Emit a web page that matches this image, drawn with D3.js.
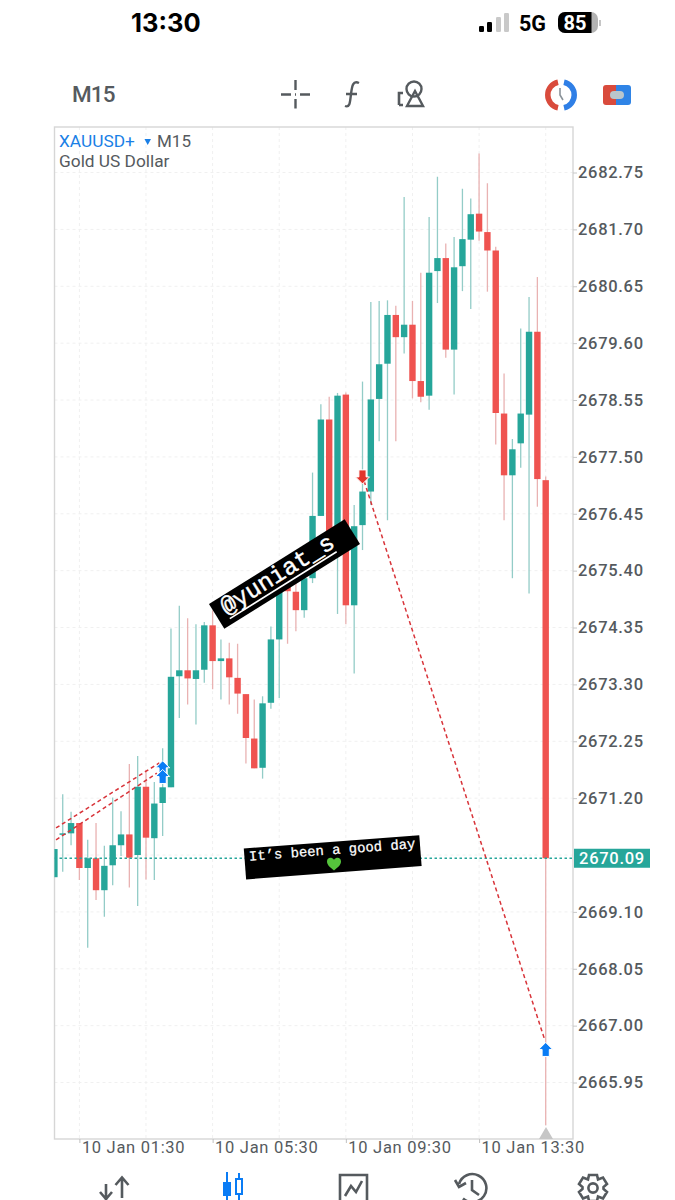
<!DOCTYPE html>
<html><head><meta charset="utf-8">
<style>
html,body{margin:0;padding:0;background:#fff}
svg{display:block}
text{font-family:Roboto,sans-serif}
</style>
<script src="https://cdn.jsdelivr.net/npm/d3@7"></script></head>
<body><svg id="c" width="675" height="1200"></svg>
<script>
// Candles, oldest first, 15 minutes apart
const firstCandle = "2025-01-10T00:45:00Z";
const opens = [2669.74,2670.53,2670.55,2670.74,2669.91,2670.09,2669.50,2669.96,2670.33,2670.53,2670.15,2671.41,2670.46,2671.11,2671.40,2673.45,2673.56,2673.40,2673.57,2674.39,2673.73,2673.78,2673.42,2673.12,2672.30,2671.76,2672.96,2674.13,2675.17,2675.01,2674.67,2675.26,2676.41,2678.19,2675.96,2678.65,2674.76,2676.24,2676.86,2678.57,2679.22,2680.12,2679.71,2679.94,2678.90,2678.63,2680.93,2681.17,2679.48,2681.02,2681.51,2681.99,2681.65,2681.31,2678.30,2677.16,2677.75,2678.28,2679.81,2677.07];
const highs = [2670.26,2671.27,2670.95,2670.74,2670.43,2670.74,2670.32,2671.21,2670.96,2671.83,2671.98,2671.72,2671.50,2672.12,2674.33,2674.75,2674.52,2674.41,2674.45,2674.67,2674.13,2674.07,2674.05,2673.12,2673.02,2673.08,2674.37,2675.50,2675.41,2675.32,2675.59,2677.21,2678.47,2678.61,2678.68,2678.69,2676.61,2678.89,2680.36,2680.38,2680.39,2680.29,2682.30,2680.38,2680.90,2681.93,2682.67,2681.44,2681.56,2682.45,2682.27,2683.10,2682.55,2681.38,2679.04,2677.83,2679.87,2680.45,2680.82,2677.14];
const lows = [2669.74,2669.84,2670.33,2669.69,2668.44,2669.32,2669.01,2669.59,2670.13,2669.55,2669.21,2669.70,2669.69,2670.50,2671.40,2672.68,2672.93,2672.56,2673.33,2673.21,2673.02,2672.93,2672.76,2671.84,2671.75,2671.56,2672.85,2673.05,2674.05,2674.28,2674.53,2675.17,2676.41,2675.59,2674.60,2674.41,2673.50,2675.78,2676.61,2677.79,2676.33,2677.79,2679.41,2678.58,2678.51,2678.37,2680.34,2679.33,2678.65,2680.56,2680.23,2681.49,2680.55,2677.73,2676.33,2675.26,2677.30,2674.98,2676.58,2665.16];
const closes = [2670.26,2670.55,2670.74,2669.91,2670.09,2669.50,2669.95,2670.33,2670.53,2670.10,2671.41,2670.47,2671.10,2671.40,2673.44,2673.56,2673.41,2673.56,2674.39,2673.73,2673.78,2673.43,2673.13,2672.31,2671.75,2672.95,2674.13,2675.04,2675.02,2674.67,2675.26,2676.41,2678.19,2675.87,2678.63,2674.76,2676.22,2676.86,2678.56,2679.21,2680.12,2679.71,2679.94,2678.90,2678.61,2680.90,2681.17,2679.48,2681.00,2681.52,2681.98,2681.66,2681.31,2678.31,2677.16,2677.64,2678.30,2679.81,2677.09,2670.09];
const priceTicks = [2682.75,2681.70,2680.65,2679.60,2678.55,2677.50,2676.45,2675.40,2674.35,2673.30,2672.25,2671.20,2669.10,2668.05,2667.00,2665.95];
const gridPrices = [2682.75,2681.70,2680.65,2679.60,2678.55,2677.50,2676.45,2675.40,2674.35,2673.30,2672.25,2671.20,2670.15,2669.10,2668.05,2667.00,2665.95];
const timeTicks = ["2025-01-10T01:30:00Z","2025-01-10T05:30:00Z","2025-01-10T09:30:00Z","2025-01-10T13:30:00Z"];
const timeGrid = ["2025-01-10T01:30:00Z","2025-01-10T03:30:00Z","2025-01-10T05:30:00Z","2025-01-10T07:30:00Z","2025-01-10T09:30:00Z","2025-01-10T11:30:00Z","2025-01-10T13:30:00Z","2025-01-10T15:30:00Z"];
const lastPrice = 2670.09;
const tradeFromIdx = [0.2,0.2,37.2];
const tradeFromPrice = [2670.65,2670.43,2677.05];
const tradeToIdx = [12.6,12.3,58.9];
const tradeToPrice = [2671.85,2671.66,2666.73];
const buyIdx = [13,13,59];
const buyPrice = [2671.76,2671.60,2666.56];
const sellIdx = [37];
const sellPrice = [2677.13];

const svg = d3.select("#c");
const W=675, L=54.5, R=573, T=127, B=1139;
const gray="#555a5e", teal="#26a69a", red="#ef5350", blue="#0a7cf5";

const t0 = new Date(firstCandle);
const timeOf = i => new Date(+t0 + i*15*60000);
const x = d3.scaleUtc().domain([timeOf(0),timeOf(59)]).range([54.4,545.7]);
const y = d3.scaleLinear().domain([2682.75,2665.95]).range([172.5,1082.5]);
const candles = opens.map((o,i)=>({t:timeOf(i),o,h:highs[i],l:lows[i],c:closes[i]}));

svg.append("defs").append("clipPath").attr("id","plot").append("rect").attr("x",L).attr("y",T).attr("width",R-L).attr("height",B-T);

// Grid
const grid = svg.append("g").attr("stroke","#f0f0f0").attr("stroke-width",1).attr("stroke-dasharray","3 3");
grid.selectAll(".h").data(gridPrices).join("line").attr("x1",L).attr("x2",R).attr("y1",d=>y(d)).attr("y2",d=>y(d));
grid.selectAll(".v").data(timeGrid).join("line").attr("x1",d=>x(new Date(d))).attr("x2",d=>x(new Date(d))).attr("y1",T).attr("y2",B);

// Frame
svg.append("rect").attr("x",L).attr("y",T).attr("width",R-L).attr("height",B-T).attr("fill","none").attr("stroke","#d6d6d6").attr("stroke-width",1.4);

// Axes
const ay = svg.append("g").attr("transform",`translate(${R},0)`)
  .call(d3.axisRight(y).tickValues(priceTicks).tickFormat(d3.format(".2f")).tickSize(4).tickPadding(1));
ay.select(".domain").remove();
ay.selectAll("line").attr("stroke","#c8c8c8");
ay.selectAll("text").attr("fill",gray).style("font-size","16.5px").style("font-weight",500).style("letter-spacing","0.7px").style("font-family","Roboto");
const ax = svg.append("g").attr("transform",`translate(0,${B})`)
  .call(d3.axisBottom(x).tickValues(timeTicks.map(d=>new Date(d))).tickFormat(d3.utcFormat("%d %b %H:%M")).tickSize(4).tickPadding(0));
ax.select(".domain").remove();
ax.selectAll("line").attr("stroke","#c0c0c0");
ax.selectAll("text").attr("fill",gray).attr("text-anchor","start").attr("dx",2).attr("dy","0.62em").style("font-size","16.5px").style("letter-spacing","0.7px").style("font-family","Roboto");

// Candles
const plot = svg.append("g").attr("clip-path","url(#plot)");
plot.selectAll(".w").data(candles).join("line")
  .attr("x1",d=>x(d.t)).attr("x2",d=>x(d.t)).attr("y1",d=>y(d.h)).attr("y2",d=>y(d.l))
  .attr("stroke",d=>d.c>=d.o?"#93ccc7":"#e9b2b2").attr("stroke-width",1.3);
plot.selectAll(".b").data(candles).join("rect")
  .attr("x",d=>x(d.t)-3.2).attr("width",6.4)
  .attr("y",d=>y(Math.max(d.o,d.c))).attr("height",d=>Math.max(1.5,Math.abs(y(d.o)-y(d.c))))
  .attr("fill",d=>d.c>=d.o?teal:red);

// Last price line
plot.append("line").attr("x1",L).attr("x2",R).attr("y1",y(lastPrice)).attr("y2",y(lastPrice))
  .attr("stroke",teal).attr("stroke-width",1.3).attr("stroke-dasharray","2.5 2.5");
svg.append("rect").attr("x",574).attr("y",y(lastPrice)-9.5).attr("width",76).attr("height",19).attr("fill",teal);
svg.append("text").attr("x",612).attr("y",y(lastPrice)+6).attr("text-anchor","middle").attr("fill","#fff")
  .style("font-size","16.5px").style("font-weight",500).style("letter-spacing","0.7px").text(d3.format(".2f")(lastPrice));

// Trade lines
plot.selectAll(".t").data(tradeFromIdx).join("line")
  .attr("x1",d=>x(timeOf(d))).attr("y1",(d,i)=>y(tradeFromPrice[i]))
  .attr("x2",(d,i)=>x(timeOf(tradeToIdx[i]))).attr("y2",(d,i)=>y(tradeToPrice[i]))
  .attr("stroke","#d8343a").attr("stroke-width",1.5).attr("stroke-dasharray","4 3");

// Markers
const upArrow="M0,-7L7,0L3.6,0L3.6,7L-3.6,7L-3.6,0L-7,0Z";
plot.selectAll(".buy").data(buyIdx).join("path")
  .attr("d",upArrow).attr("transform",(d,i)=>`translate(${x(timeOf(d))},${y(buyPrice[i])})`)
  .attr("fill",blue).attr("stroke","#fff").attr("stroke-width",1);
plot.selectAll(".sell").data(sellIdx).join("path")
  .attr("d",upArrow).attr("transform",(d,i)=>`translate(${x(timeOf(d))},${y(sellPrice[i])}) scale(1,-1)`)
  .attr("fill","#e2352d").attr("stroke","#fff").attr("stroke-width",1);
svg.append("path").attr("d","M546,1127L553,1139L539,1139Z").attr("fill","#c6c6c6");

// Chart header
svg.append("text").attr("x",59).attr("y",146.5).attr("fill","#1a7fe6").style("font-size","17.3px").text("XAUUSD+");
svg.append("path").attr("d","M144.5,139L151,139L147.7,145Z").attr("fill","#1a7fe6");
svg.append("text").attr("x",157).attr("y",146.5).attr("fill",gray).style("font-size","17px").text("M15");
svg.append("text").attr("x",59).attr("y",167).attr("fill",gray).style("font-size","17.3px").text("Gold US Dollar");

// Stickers
const s1=svg.append("g").attr("transform","translate(284.5,574) rotate(-32)");
s1.append("rect").attr("x",-80).attr("y",-14.5).attr("width",160).attr("height",29).attr("fill","#000");
s1.append("text").attr("x",-71).attr("y",4).attr("fill","#fff").attr("stroke","#fff").attr("stroke-width",0.45)
 .style("font-family","'Liberation Mono',monospace").style("font-size","24px").text("@yuniat_s");
s1.append("rect").attr("x",-70).attr("y",8).attr("width",126).attr("height",1.6).attr("fill","#fff");
const s2=svg.append("g").attr("transform","translate(332.7,857.3) rotate(-4.35)");
s2.append("rect").attr("x",-88).attr("y",-15.5).attr("width",176).attr("height",31).attr("fill","#000");
s2.append("text").attr("x",0).attr("y",-3).attr("text-anchor","middle").attr("fill","#fff").attr("stroke","#fff").attr("stroke-width",0.25)
 .style("font-family","'Liberation Mono',monospace").style("font-size","13.9px").text("It\u2019s been a good day");
svg.append("path").attr("d","M334,870.5C329,866.5 327,864.5 327,861.5C327,857.5 331.5,856.5 334,859.8C336.5,856.5 341,857.5 341,861.5C341,864.5 339,866.5 334,870.5Z").attr("fill","#55c43c");

// Status bar
svg.append("text").attr("x",131).attr("y",32).attr("fill","#000").style("font-size","25.5px").style("font-weight",700).style("font-family","Inter,Roboto").text("13:30");
[[479,26,6,"#000"],[487,22,10,"#000"],[496,17,15,"#c9c9c9"],[504,13,19,"#c9c9c9"]].forEach(b=>{
 svg.append("rect").attr("x",b[0]).attr("y",b[1]).attr("width",5).attr("height",b[2]).attr("rx",1.2).attr("fill",b[3]);
});
svg.append("text").attr("x",519).attr("y",31).attr("fill","#000").style("font-size","21.5px").style("font-weight",700).style("font-family","Roboto").text("5G");
svg.append("rect").attr("x",558).attr("y",12).attr("width",40).attr("height",21).attr("rx",7).attr("fill","#b3b3b3");
svg.append("path").attr("d","M565,12H591.5V33H565A7,7 0 0 1 558,26V19A7,7 0 0 1 565,12Z").attr("fill","#000");
svg.append("text").attr("x",575).attr("y",29.5).attr("text-anchor","middle").attr("fill","#fff").style("font-size","20px").style("font-weight",700).text("85");
svg.append("path").attr("d","M600,20V26").attr("stroke","#b3b3b3").attr("stroke-width",1.5);

// Toolbar
svg.append("text").attr("x",72).attr("y",102).attr("fill",gray).style("font-size","22.5px").style("font-weight",500).style("letter-spacing","-0.9px").text("M15");
const ic=svg.append("g").attr("fill","none").attr("stroke",gray).attr("stroke-width",2.4);
ic.append("path").attr("d","M281,94.5H291M300,94.5H310M295.5,80V90M295.5,99V108.5M295,94.5h1");
ic.append("path").attr("d","M345,106C350,108 350,102 351,94C352,86 353,80 359,83M346,94H357");
ic.append("path").attr("d","M399,105V93H403M399,105H403").attr("stroke-width",2.6);
ic.append("circle").attr("cx",414).attr("cy",89).attr("r",7.5);
ic.append("path").attr("d","M415,91L407,106H423Z");
svg.append("path").attr("d","M558,82.3A13,13 0 0 0 558,107.7").attr("fill","none").attr("stroke","#d94b3c").attr("stroke-width",5.5);
svg.append("path").attr("d","M564,82.3A13,13 0 0 1 564,107.7").attr("fill","none").attr("stroke","#2f7fe6").attr("stroke-width",5.5);
svg.append("path").attr("d","M560,88V95L563,100").attr("fill","none").attr("stroke","#8a9299").attr("stroke-width",1.6);
svg.append("path").attr("d","M606,85H616V105H606A3,3 0 0 1 603,102V88A3,3 0 0 1 606,85Z").attr("fill","#d94b3c");
svg.append("path").attr("d","M616,85H628A3,3 0 0 1 631,88V102A3,3 0 0 1 628,105H616Z").attr("fill","#2f84e6");
svg.append("rect").attr("x",610).attr("y",91).attr("width",14).attr("height",8).attr("rx",4).attr("fill","#b9c6cc");

// Bottom bar icons
const bi=svg.append("g").attr("fill","none").attr("stroke",gray).attr("stroke-width",2.6);
bi.append("path").attr("d","M106,1200V1184M100,1192L106,1199L112,1192M122,1198V1178M115.5,1185L122,1177.5L128.5,1185");
svg.append("path").attr("d","M227,1172V1200").attr("stroke",blue).attr("stroke-width",2);
svg.append("rect").attr("x",223).attr("y",1182).attr("width",8).attr("height",14).attr("fill",blue);
svg.append("path").attr("d","M239,1173V1200").attr("stroke",blue).attr("stroke-width",2);
svg.append("rect").attr("x",236).attr("y",1179).attr("width",6).attr("height",15).attr("fill","#fff").attr("stroke",blue).attr("stroke-width",2);
bi.append("path").attr("d","M340,1200V1175H367V1200M345,1196L351,1186L356,1192L362,1181");
bi.append("path").attr("d","M459,1184A14,14 0 1 1 463,1198.5M455,1180L459,1187L466,1183M472,1180V1190L479,1195");
bi.append("circle").attr("cx",593).attr("cy",1188).attr("r",4.6);
bi.append("path").attr("d","M589,1175H597L598,1179.5L603,1177.5L607,1184L603.5,1187V1189L607,1192L603,1198.5L598,1196.5L597,1201H589L588,1196.5L583,1198.5L579,1192L582.5,1189V1187L579,1184L583,1177.5L588,1179.5Z");
</script></body></html>
